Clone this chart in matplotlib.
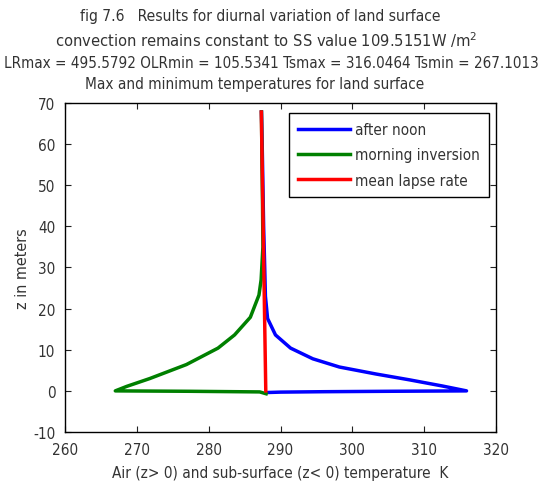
#!/usr/bin/env python3
"""
Diurnal variation of land surface temperature profiles (fig 7.6).
"""

import matplotlib
matplotlib.use("Agg")
import matplotlib.pyplot as plt

# afternoon profile: sub-surface then air
noon_z = [-0.4, -0.3, -0.2, -0.1, 0.0, 1.2, 2.7, 4.1, 5.8, 7.8, 10.4, 13.6, 17.6, 23.0, 30.0, 40.0, 50.0, 60.0, 67.8]
noon_T = [288.1, 290.0, 296.0, 305.0, 315.9, 312.5, 307.9, 303.3, 298.2, 294.5, 291.4, 289.3, 288.2,
          287.9, 287.8, 287.65, 287.55, 287.45, 287.35]

# morning inversion profile: sub-surface then air
morn_z = [-0.7, -0.25, -0.1, 0.0, 1.1, 3.0, 6.4, 10.4, 13.6, 17.9, 23.3, 27.0, 35.0, 45.0, 55.0, 67.8]
morn_T = [288.0, 287.1, 277.4, 267.0, 268.6, 271.8, 276.9, 281.3, 283.6, 285.8, 287.0, 287.3,
          287.55, 287.5, 287.42, 287.35]

# mean lapse rate
lapse_z = [0.0, 67.8]
lapse_T = [287.95, 287.33]

title_lines = [
    "fig 7.6   Results for diurnal variation of land surface",
    "convection remains constant to SS value 109.5151W /m$^2$",
    "LRmax = 495.5792 OLRmin = 105.5341 Tsmax = 316.0464 Tsmin = 267.1013",
    "Max and minimum temperatures for land surface",
]

plt.rcParams['font.family'] = ['DejaVu Sans']
plt.rcParams['font.stretch'] = 'condensed'
plt.rcParams['mathtext.fontset'] = 'custom'
plt.rcParams['mathtext.rm'] = 'DejaVu Sans:stretch=condensed'
plt.rcParams['axes.unicode_minus'] = False

fig = plt.figure(figsize=(5.58, 4.85), dpi=100)
ax = fig.add_axes([0.1165, 0.1072, 0.7724, 0.6784])

ax.plot(noon_T, noon_z, color='#0000ff', lw=2.5, label='after noon')
ax.plot(morn_T, morn_z, color='#008000', lw=2.5, label='morning inversion')
ax.plot(lapse_T, lapse_z, color='#ff0000', lw=2.5, label='mean lapse rate')

ax.set_xlim(260, 320)
ax.set_ylim(-10, 70)
ax.set_xticks(range(260, 321, 10))
ax.set_yticks(range(-10, 71, 10))
ax.tick_params(direction='in', top=True, right=True, length=4, width=0.8,
               labelsize=11, pad=7, colors='#222222', labelcolor='#333333')
for s in ax.spines.values():
    s.set_linewidth(1.0)

ax.set_xlabel("Air (z> 0) and sub-surface (z< 0) temperature  K", fontsize=11,
              color='#333333', labelpad=6)
ax.set_ylabel("z in meters", fontsize=11.5, color='#333333', labelpad=2)

leg = ax.legend(loc='upper right', bbox_to_anchor=(0.984, 0.97), fontsize=11,
                fancybox=False, framealpha=1, edgecolor='black', handlelength=3.4,
                handletextpad=0.35, labelspacing=0.68, borderpad=0.6, borderaxespad=0)
leg.get_frame().set_linewidth(1.0)
for t in leg.get_texts():
    t.set_color('#333333')

# title lines, placed one by one as in the original figure
fig.text(0.467, 0.967, title_lines[0], ha='center', va='center', fontsize=11.2, color='#333333')
fig.text(0.478, 0.918, title_lines[1], ha='center', va='center', fontsize=11.8, color='#333333')
fig.text(0.008, 0.870, title_lines[2], ha='left', va='center', fontsize=10.9, color='#333333')
fig.text(0.457, 0.825, title_lines[3], ha='center', va='center', fontsize=11.0, color='#333333')

fig.savefig("out.png", dpi=100)
